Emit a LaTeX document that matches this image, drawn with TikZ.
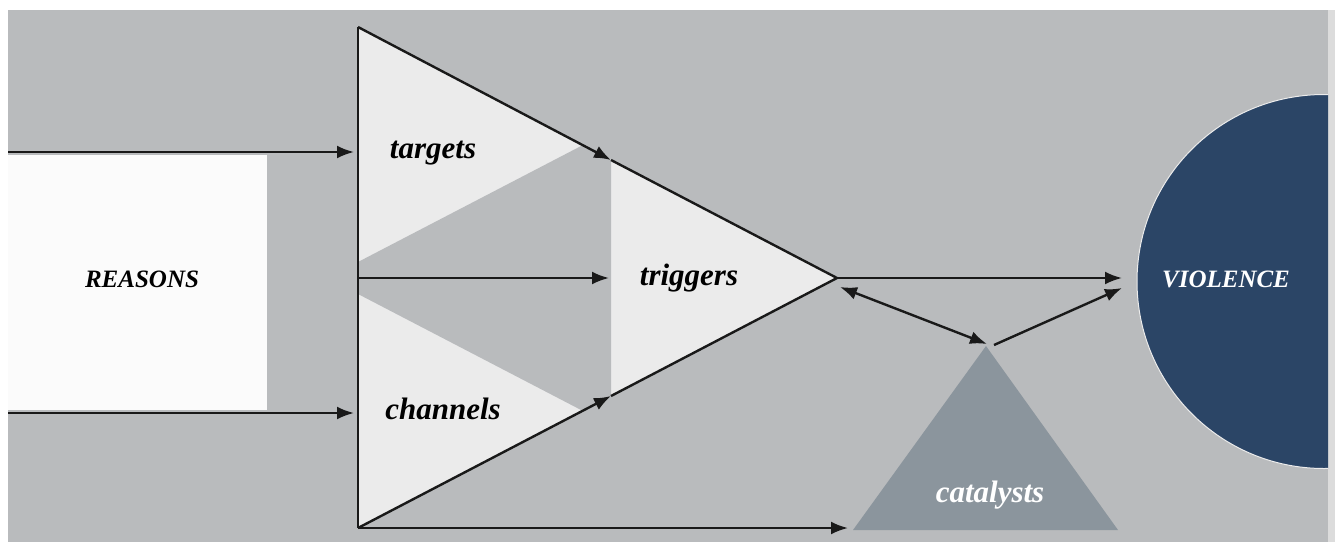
\documentclass[tikz,border=0pt]{standalone}
\usepackage{fontspec}
\setmainfont{Liberation Serif}
\usetikzlibrary{arrows.meta}
\definecolor{bggray}{HTML}{B9BBBD}
\definecolor{lightfill}{HTML}{EBEBEB}
\definecolor{catfill}{HTML}{8B959D}
\definecolor{navy}{HTML}{2B4566}
\definecolor{stripgray}{HTML}{DCDCDC}
\begin{document}
\begin{tikzpicture}[x=1pt,y=-1pt,
  conn/.style={line width=2.4pt, draw=black!90},
  tip/.tip={Latex[length=17pt,width=13pt]},
  arr/.style={conn, -tip},
  darr/.style={conn, tip-tip},
  lbl/.style={font=\fontsize{31}{31}\selectfont\bfseries\itshape, anchor=base, inner sep=0pt},
  caplbl/.style={font=\fontsize{25}{25}\selectfont\bfseries\itshape, anchor=base, inner sep=0pt}]

\useasboundingbox (0,0) rectangle (1335,542);
\fill[white] (0,0) rectangle (1335,542);
\fill[bggray] (8,10) rectangle (1328,542);
\fill[stripgray] (1328,10) rectangle (1335,542);
\fill[white!97!gray] (8,155) rectangle (267,410);

% key points
\coordinate (A) at (358,27);
\coordinate (B) at (358,528);
\coordinate (P) at (837,278);
\coordinate (T1) at (611,160);
\coordinate (T2) at (611,396);
\coordinate (M) at (358,278);
\coordinate (Mt) at (609,278);
\coordinate (CA) at (986,346);
\coordinate (CL) at (853,530);
\coordinate (CR) at (1118,530);

% triangles
\fill[lightfill] (A) -- (P) -- (B) -- cycle;
\fill[bggray] (358,262) -- (583,145) -- (T1) -- (T2) -- (583,411) -- (358,294) -- cycle;
\fill[catfill] (CA) -- (CL) -- (CR) -- cycle;

% violence circle
\begin{scope}
  \clip (0,0) rectangle (1328,542);
  \fill[navy, draw=white!85!gray, line width=1pt] (1324,281.5) circle (187pt);
\end{scope}

% labels
\node[caplbl] (reasons) at (142,287) {REASONS};
\node[lbl] (targets) at (433,158) {targets};
\node[lbl] (channels) at (443,419) {channels};
\node[lbl] (triggers) at (689,285) {triggers};
\node[lbl, text=white] (catalysts) at (990,502) {catalysts};
\node[caplbl, text=white] (violence) at (1226,287) {VIOLENCE};

% connectors
\coordinate (in1) at (8,152);
\coordinate (in1e) at (354,152);
\coordinate (in2) at (8,413);
\coordinate (in2e) at (354,413);
\coordinate (Cb) at (848,528);
\coordinate (Vin) at (1122,278);
\coordinate (D1) at (840,287);
\coordinate (D2) at (987,344);
\coordinate (E1) at (994,345);
\coordinate (E2) at (1122,288);

\draw[arr] (in1) -- (in1e);
\draw[arr] (in2) -- (in2e);
\draw[conn] (A) -- (B);
\draw[arr] (A) -- (T1);
\draw[conn] (T1) -- (P);
\draw[arr] (B) -- (T2);
\draw[conn] (T2) -- (P);
\draw[arr] (M) -- (Mt);
\draw[arr] (B) -- (Cb);
\draw[arr] (P) -- (Vin);
\draw[darr] (D1) -- (D2);
\draw[arr] (E1) -- (E2);
\end{tikzpicture}
\end{document}
